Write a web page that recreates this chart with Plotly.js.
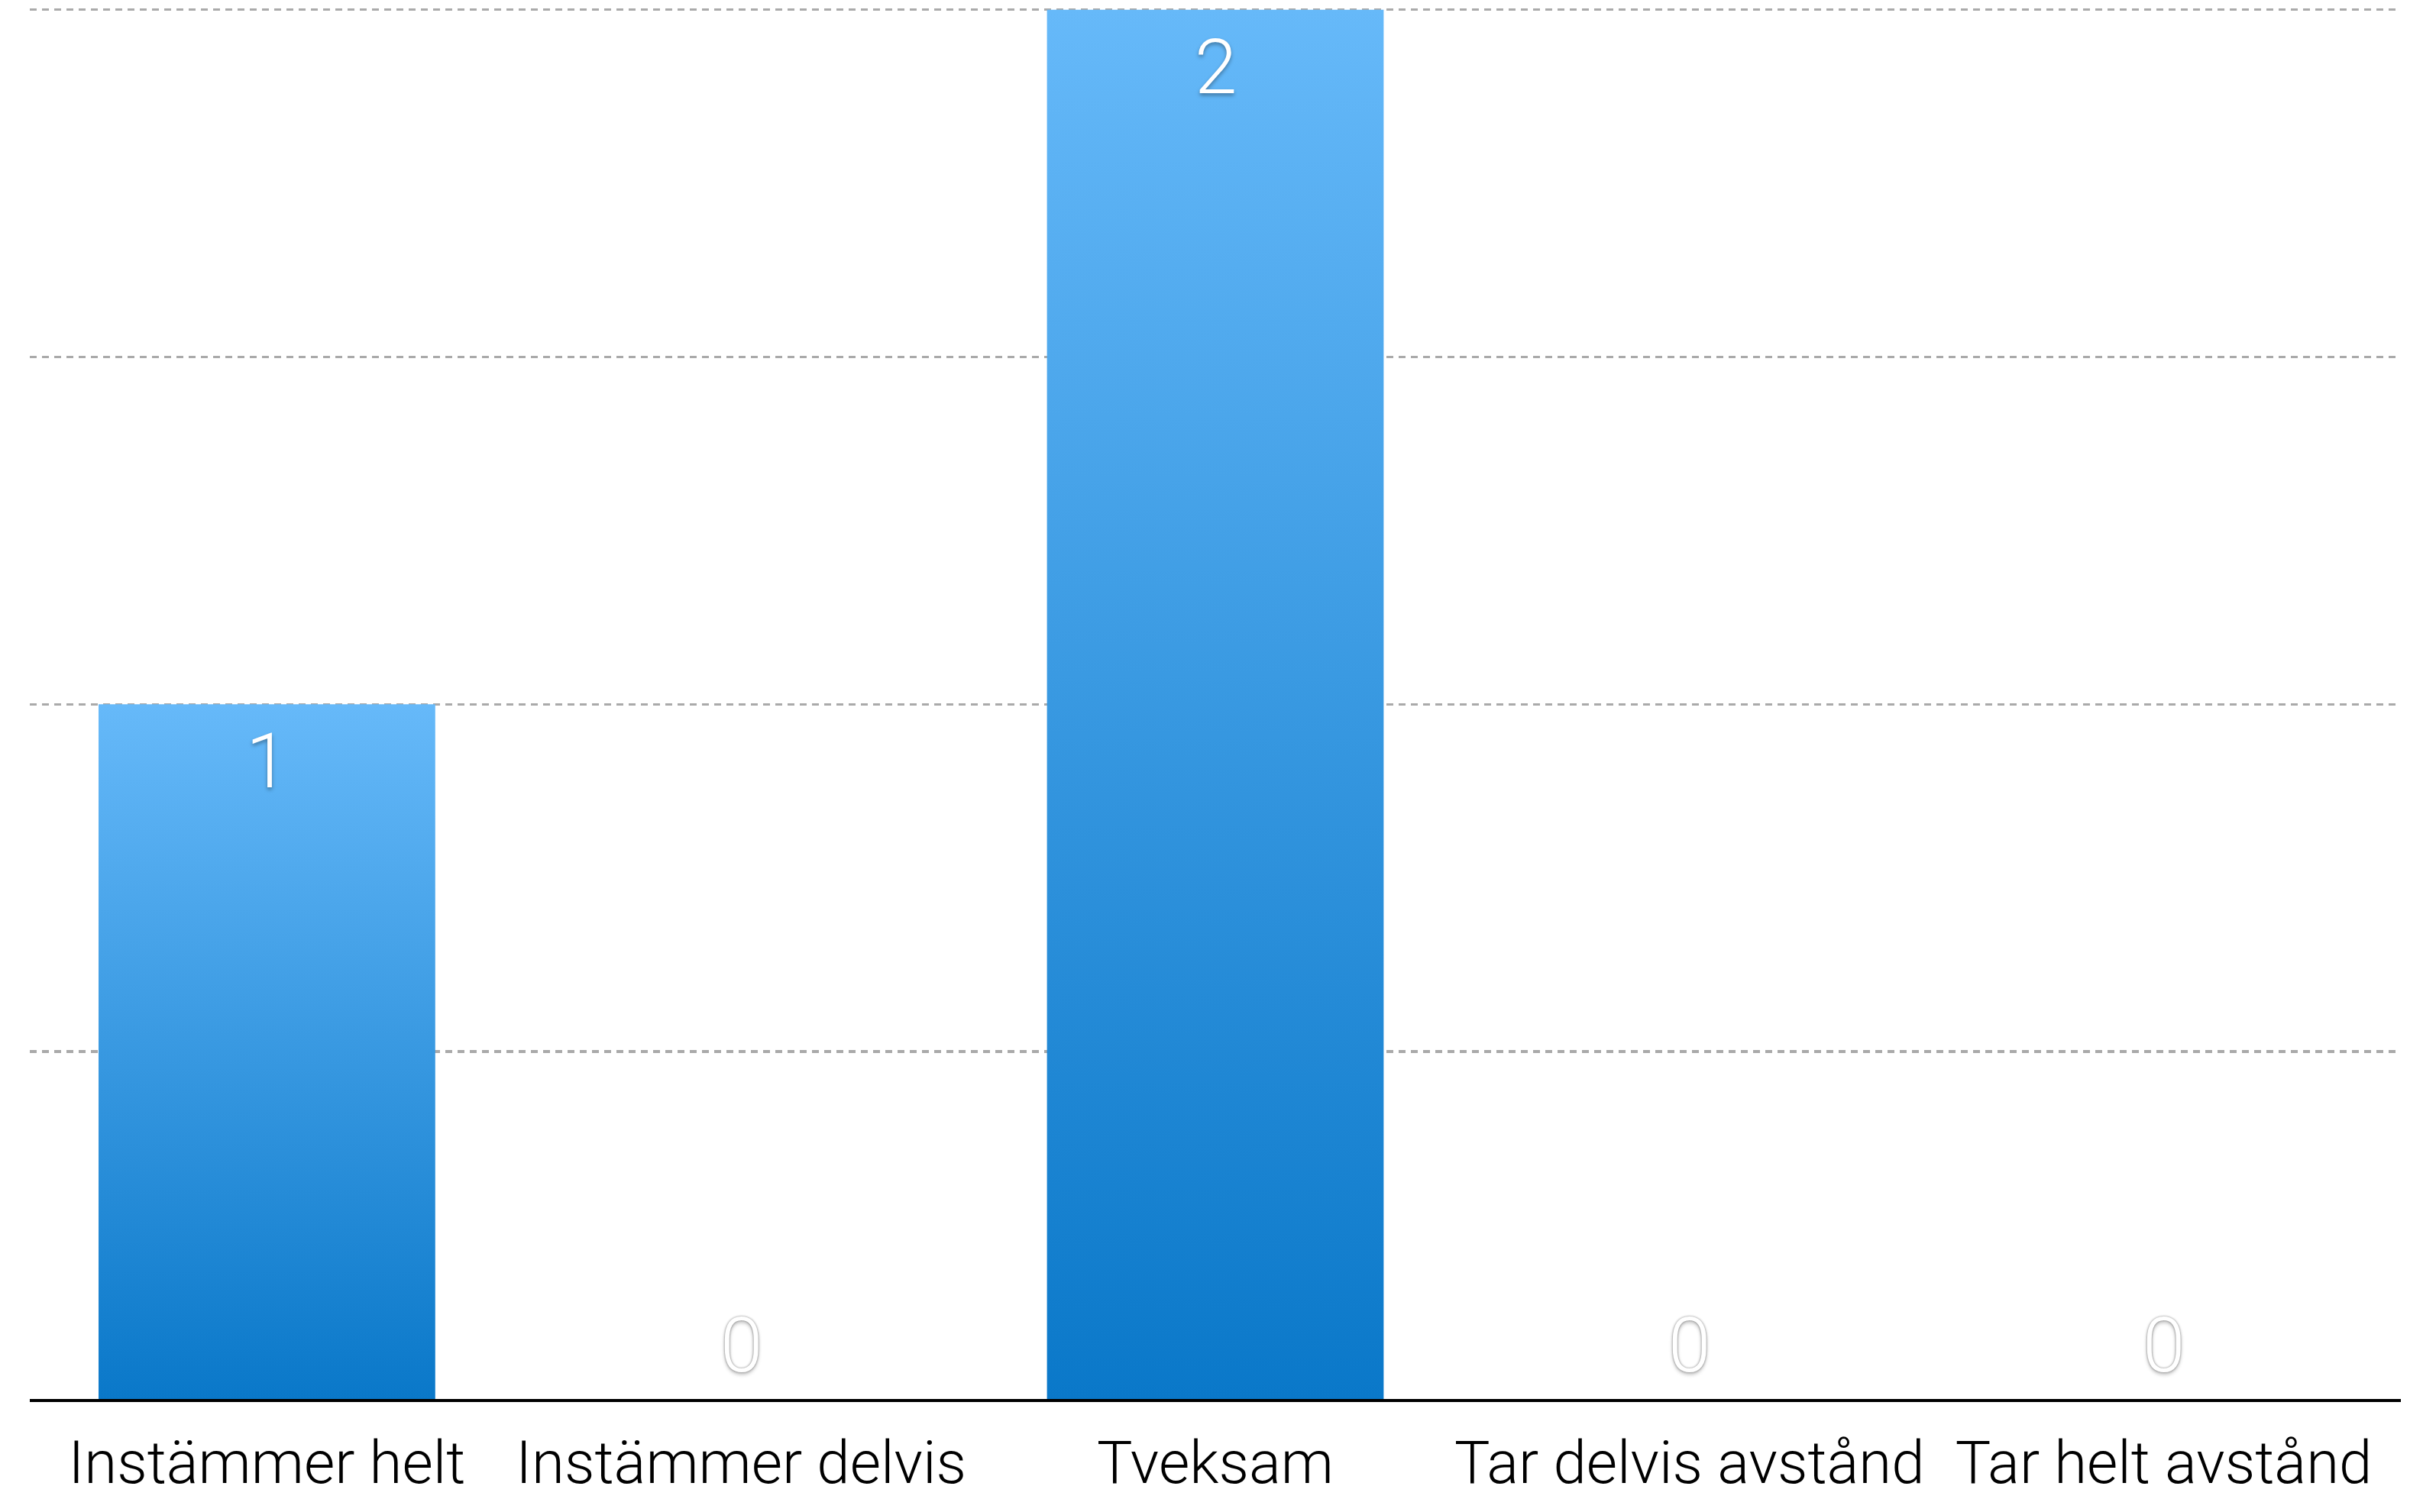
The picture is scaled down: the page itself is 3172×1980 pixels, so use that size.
<!DOCTYPE html>
<html>
<head>
<meta charset="utf-8">
<script src="https://cdn.plot.ly/plotly-3.0.1.min.js"></script>
<style>
  html, body { margin: 0; padding: 0; background: #ffffff; }
  #grafico { width: 3172px; height: 1980px; }
</style>
</head>
<body>
<div id="grafico"></div>
<script>
const categorias = ['Instämmer helt', 'Instämmer delvis', 'Tveksam', 'Tar delvis avstånd', 'Tar helt avstånd'];
const valores = [1, 0, 2, 0, 0];
const marcasY = [0, 0.5, 1, 1.5, 2];

const fuente = 'Roboto, "Liberation Sans", Arial, sans-serif';

// etiquetas: dentro de la barra arriba, o sobre el eje si vale 0
const etiquetas = categorias.map((c, i) => {
  const v = valores[i];
  const dentro = v > 0;
  return {
    x: c,
    y: v,
    xref: 'x',
    yref: 'y',
    text: String(v),
    showarrow: false,
    yanchor: dentro ? 'top' : 'bottom',
    yshift: dentro ? -14 : 10,
    font: {
      family: fuente,
      size: 100,
      weight: 300,
      color: '#ffffff',
      shadow: dentro
        ? '0px 3px 5px rgba(0,0,0,0.35)'
        : '0px 0px 3px rgba(0,0,0,0.45), 0px 3px 5px rgba(0,0,0,0.25)'
    }
  };
});

const trazaBarras = {
  type: 'bar',
  x: categorias,
  y: valores,
  marker: { color: '#3a9ae6', line: { width: 0 } },
  hoverinfo: 'skip'
};

const layout = {
  width: 3172,
  height: 1980,
  margin: { l: 39, r: 29, t: 10, b: 148 },
  paper_bgcolor: '#ffffff',
  plot_bgcolor: '#ffffff',
  bargap: 0.29,
  showlegend: false,
  font: { family: fuente, color: '#000000' },
  xaxis: {
    type: 'category',
    showline: true,
    linecolor: '#000000',
    linewidth: 4,
    ticks: '',
    showgrid: false,
    zeroline: false,
    ticklabelstandoff: 12,
    tickfont: { family: fuente, size: 78, weight: 300, color: '#000000' }
  },
  yaxis: {
    range: [0, 2.003],
    tickvals: marcasY,
    showticklabels: false,
    showgrid: true,
    gridcolor: '#aaaaaa',
    gridwidth: 3.5,
    griddash: '9px,7px',
    zeroline: false,
    showline: false,
    fixedrange: true
  },
  annotations: etiquetas
};

const config = { staticPlot: true, displayModeBar: false };

// degradado vertical de las barras (azul claro arriba, oscuro abajo)
function aplicarDegradado(gd) {
  const svg = gd.querySelector('svg.main-svg');
  const ns = 'http://www.w3.org/2000/svg';
  let defs = svg.querySelector('defs');
  if (!defs) {
    defs = document.createElementNS(ns, 'defs');
    svg.insertBefore(defs, svg.firstChild);
  }
  const grad = document.createElementNS(ns, 'linearGradient');
  grad.setAttribute('id', 'degradadoBarra');
  grad.setAttribute('x1', '0');
  grad.setAttribute('y1', '0');
  grad.setAttribute('x2', '0');
  grad.setAttribute('y2', '1');
  [['0%', '#66b9f9'], ['100%', '#0a78c9']].forEach(([off, col]) => {
    const stop = document.createElementNS(ns, 'stop');
    stop.setAttribute('offset', off);
    stop.setAttribute('stop-color', col);
    grad.appendChild(stop);
  });
  defs.appendChild(grad);
  gd.querySelectorAll('.barlayer .point path').forEach(p => {
    p.style.fill = 'url(#degradadoBarra)';
  });
}

Plotly.newPlot('grafico', [trazaBarras], layout, config).then(aplicarDegradado);
</script>
</body>
</html>
